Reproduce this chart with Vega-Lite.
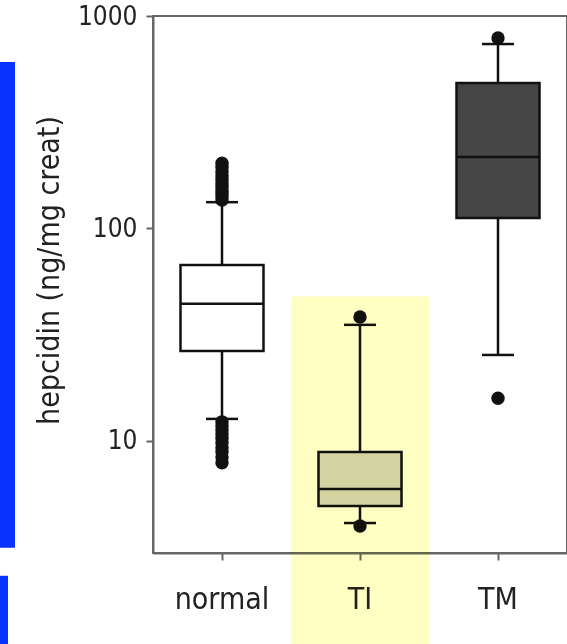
{
  "$schema": "https://vega.github.io/schema/vega-lite/v6.json",
  "width": 414,
  "height": 537,
  "autosize": {"type": "none"},
  "padding": {"left": 153, "top": 16, "right": 0, "bottom": 91},
  "background": "white",
  "config": {
    "view": {"stroke": "#666666", "strokeWidth": 2},
    "font": "'Liberation Sans Narrow', 'DejaVu Sans Condensed', sans-serif"
  },
  "datasets": {
    "boxes": [
      {"group": "normal", "lower": 12.7, "q1": 26.5, "median": 44.2, "q3": 67.3, "upper": 133},
      {"group": "TI", "lower": 4.11, "q1": 4.94, "median": 5.95, "q3": 8.88, "upper": 35.2},
      {"group": "TM", "lower": 25.4, "q1": 112, "median": 217, "q3": 484, "upper": 738}
    ],
    "outliers": [
      {"group": "normal", "value": 136}, {"group": "normal", "value": 141}, {"group": "normal", "value": 146},
      {"group": "normal", "value": 151}, {"group": "normal", "value": 157}, {"group": "normal", "value": 163},
      {"group": "normal", "value": 170}, {"group": "normal", "value": 177}, {"group": "normal", "value": 185},
      {"group": "normal", "value": 194}, {"group": "normal", "value": 203},
      {"group": "normal", "value": 12.3}, {"group": "normal", "value": 11.8}, {"group": "normal", "value": 11.3},
      {"group": "normal", "value": 10.8}, {"group": "normal", "value": 10.3}, {"group": "normal", "value": 9.8},
      {"group": "normal", "value": 9.3}, {"group": "normal", "value": 8.9}, {"group": "normal", "value": 8.4},
      {"group": "normal", "value": 7.9},
      {"group": "TI", "value": 38.3}, {"group": "TI", "value": 3.98},
      {"group": "TM", "value": 788}, {"group": "TM", "value": 15.9}
    ],
    "highlight": [{"group": "TI", "top": 48, "bottom": 1.05}],
    "edge": [
      {"x0": -153, "x1": -138, "ytop": 607, "ybottom": 3.14},
      {"x0": -153, "x1": -145, "ytop": 2.32, "ybottom": 1.0}
    ]
  },
  "layer": [
    {
      "layer": [
        {
          "data": {"name": "boxes"},
          "mark": {"type": "rule", "color": "#111111", "strokeWidth": 2.5},
          "encoding": {
            "x": {"field": "group", "type": "nominal", "sort": ["normal", "TI", "TM"],
                  "scale": {"domain": ["normal", "TI", "TM"], "paddingInner": 0, "paddingOuter": 0},
                  "axis": {"title": null, "labelAngle": 0, "labelFontSize": 30, "labelColor": "#222222",
                           "labelPadding": 24, "tickSize": 7, "tickWidth": 2, "tickColor": "#666666",
                           "domainColor": "#666666", "domainWidth": 2}},
            "y": {"field": "lower", "type": "quantitative",
                  "scale": {"type": "log", "domain": [2.97, 1000], "nice": false},
                  "axis": {"values": [10, 100, 1000], "format": "d", "grid": false,
                           "labelFontSize": 26, "labelColor": "#222222", "labelPadding": 9,
                           "tickSize": 7, "tickWidth": 2, "tickColor": "#666666",
                           "domainColor": "#666666", "domainWidth": 2,
                           "title": "hepcidin (ng/mg creat)", "titleFontSize": 30,
                           "titleFontWeight": "normal", "titleColor": "#222222", "titlePadding": 13,
                           "titleY": 254}},
            "y2": {"field": "upper"}
          }
        },
        {
          "data": {"name": "boxes"},
          "mark": {"type": "bar", "size": 83, "stroke": "#111111", "strokeWidth": 2.5},
          "encoding": {
            "x": {"field": "group", "type": "nominal", "sort": ["normal", "TI", "TM"]},
            "y": {"field": "q1", "type": "quantitative"},
            "y2": {"field": "q3"},
            "color": {"field": "group", "type": "nominal",
                      "scale": {"domain": ["normal", "TI", "TM"], "range": ["#ffffff", "#d4d4d4", "#454545"]},
                      "legend": null}
          }
        },
        {
          "data": {"name": "boxes"},
          "mark": {"type": "tick", "size": 83, "thickness": 2.5, "color": "#111111", "opacity": 1},
          "encoding": {
            "x": {"field": "group", "type": "nominal", "sort": ["normal", "TI", "TM"]},
            "y": {"field": "median", "type": "quantitative"}
          }
        },
        {
          "data": {"name": "boxes"},
          "mark": {"type": "tick", "size": 32, "thickness": 2.5, "color": "#111111", "opacity": 1},
          "encoding": {
            "x": {"field": "group", "type": "nominal", "sort": ["normal", "TI", "TM"]},
            "y": {"field": "lower", "type": "quantitative"}
          }
        },
        {
          "data": {"name": "boxes"},
          "mark": {"type": "tick", "size": 32, "thickness": 2.5, "color": "#111111", "opacity": 1},
          "encoding": {
            "x": {"field": "group", "type": "nominal", "sort": ["normal", "TI", "TM"]},
            "y": {"field": "upper", "type": "quantitative"}
          }
        },
        {
          "data": {"name": "outliers"},
          "mark": {"type": "point", "filled": true, "size": 180, "color": "#111111", "opacity": 1},
          "encoding": {
            "x": {"field": "group", "type": "nominal", "sort": ["normal", "TI", "TM"]},
            "y": {"field": "value", "type": "quantitative"}
          }
        },
        {
          "data": {"name": "highlight"},
          "mark": {"type": "rect", "fill": "#FFFFC4", "blend": "multiply", "clip": false},
          "encoding": {
            "x": {"field": "group", "type": "nominal", "sort": ["normal", "TI", "TM"]},
            "y": {"field": "top", "type": "quantitative"},
            "y2": {"field": "bottom"}
          }
        }
      ]
    },
    {
      "data": {"name": "edge"},
      "mark": {"type": "rect", "fill": "#0A32FF", "clip": false},
      "encoding": {
        "x": {"field": "x0", "type": "quantitative", "scale": {"domain": [0, 414], "nice": false, "zero": false}, "axis": null},
        "x2": {"field": "x1"},
        "y": {"field": "ytop", "type": "quantitative"},
        "y2": {"field": "ybottom"}
      }
    }
  ],
  "resolve": {"scale": {"x": "independent"}}
}
